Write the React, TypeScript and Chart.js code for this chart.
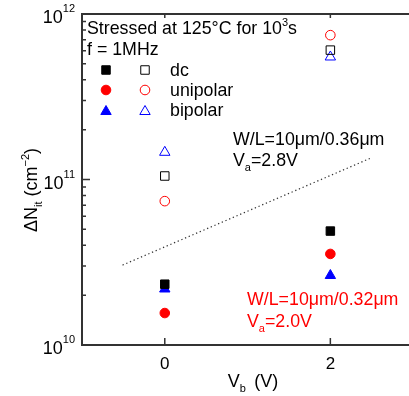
import React, { useEffect, useRef } from 'react';
import { Chart, registerables } from 'chart.js';

Chart.register(...registerables);

// Bias voltage V_b (V) for each measurement
const biasVoltages = [0, 2];

// W/L = 10um/0.32um, Va = 2.0V (filled markers)
const dcFilled = [2.33e10, 4.88e10];
const unipolarFilled = [1.56e10, 3.55e10];
const bipolarFilled = [2.18e10, 2.63e10];

// W/L = 10um/0.36um, Va = 2.8V (open markers)
const dcOpen = [1.05e11, 6.05e11];
const unipolarOpen = [7.4e10, 7.45e11];
const bipolarOpen = [1.46e11, 5.5e11];

// dotted guide line separating the two device groups
const guideX = [-0.51, 2.5];
const guideY = [3.04e10, 1.355e11];

// axis ticks
const xTickValues = [0, 2];
const yDecades = [10, 11, 12];

const FONT = '"Liberation Sans", Arial, Helvetica, sans-serif';
const RED = '#ff0000';
const BLUE = '#0000ff';
const BLACK = '#000000';

type Run = { text: string; kind?: 'sup' | 'sub' };

function drawRuns(
  ctx: CanvasRenderingContext2D,
  runs: Run[],
  x: number,
  y: number,
  size: number,
  color: string,
  align: 'left' | 'right' | 'center' = 'left'
) {
  const small = Math.round(size * 0.62);
  const widths = runs.map((r) => {
    ctx.font = `${r.kind ? small : size}px ${FONT}`;
    return ctx.measureText(r.text).width;
  });
  const total = widths.reduce((a, b) => a + b, 0);
  let cx = align === 'left' ? x : align === 'right' ? x - total : x - total / 2;
  ctx.fillStyle = color;
  ctx.textBaseline = 'alphabetic';
  ctx.textAlign = 'left';
  runs.forEach((r, i) => {
    ctx.font = `${r.kind ? small : size}px ${FONT}`;
    const dy = r.kind === 'sup' ? -size * 0.45 : r.kind === 'sub' ? size * 0.28 : 0;
    ctx.fillText(r.text, cx, y + dy);
    cx += widths[i];
  });
}

function marker(
  ctx: CanvasRenderingContext2D,
  style: 'rect' | 'circle' | 'triangle',
  x: number,
  y: number,
  r: number,
  color: string,
  filled: boolean
) {
  ctx.beginPath();
  if (style === 'rect') {
    const s = Math.SQRT1_2 * r;
    ctx.rect(x - s, y - s, 2 * s, 2 * s);
  } else if (style === 'circle') {
    ctx.arc(x, y, r, 0, Math.PI * 2);
  } else {
    let a = 0;
    ctx.moveTo(x + Math.sin(a) * r, y - Math.cos(a) * r);
    a += (2 * Math.PI) / 3;
    ctx.lineTo(x + Math.sin(a) * r, y - Math.cos(a) * r);
    a += (2 * Math.PI) / 3;
    ctx.lineTo(x + Math.sin(a) * r, y - Math.cos(a) * r);
    ctx.closePath();
  }
  ctx.lineWidth = 1;
  ctx.strokeStyle = color;
  if (filled) {
    ctx.fillStyle = color;
    ctx.fill();
  }
  ctx.stroke();
}

const SIZES = { rect: 6, circle: 4.8, triangle: 6 };

const framePlugin = {
  id: 'frame',
  afterDraw(chart: any) {
    const ctx: CanvasRenderingContext2D = chart.ctx;
    const { left, right, top, bottom } = chart.chartArea;
    const xs = chart.scales.x;
    const ys = chart.scales.y;
    ctx.save();

    // axis frame: left, bottom, top
    ctx.strokeStyle = '#333';
    ctx.lineWidth = 2;
    ctx.beginPath();
    ctx.moveTo(left, top);
    ctx.lineTo(right, top);
    ctx.moveTo(left, top - 1);
    ctx.lineTo(left, bottom + 1);
    ctx.moveTo(left - 1, bottom);
    ctx.lineTo(right, bottom);
    ctx.stroke();

    // inward ticks on the log axis
    ctx.lineWidth = 1.5;
    ctx.beginPath();
    for (let d = yDecades[0]; d < yDecades[yDecades.length - 1]; d++) {
      for (let m = 1; m <= 9; m++) {
        const py = ys.getPixelForValue(m * Math.pow(10, d));
        const len = m === 1 ? 8 : 4;
        ctx.moveTo(left, py);
        ctx.lineTo(left + len, py);
      }
    }
    ctx.stroke();

    // inward ticks on bottom and top
    ctx.beginPath();
    xTickValues.forEach((v) => {
      const px = xs.getPixelForValue(v);
      ctx.moveTo(px, bottom);
      ctx.lineTo(px, bottom - 7);
      ctx.moveTo(px, top);
      ctx.lineTo(px, top + 4);
    });
    ctx.stroke();

    // y tick labels 10^n
    yDecades.forEach((d) => {
      const py = ys.getPixelForValue(Math.pow(10, d));
      ctx.font = `11px ${FONT}`;
      const supW = ctx.measureText(String(d)).width;
      drawRuns(ctx, [{ text: '10' }], 75 - supW, py + 9, 18, BLACK, 'right');
      ctx.font = `11px ${FONT}`;
      ctx.fillStyle = BLACK;
      ctx.textAlign = 'left';
      ctx.fillText(String(d), 75 - supW, py - 2);
    });

    // x tick labels
    xTickValues.forEach((v) => {
      const px = xs.getPixelForValue(v);
      drawRuns(ctx, [{ text: String(v) }], px, 369, 17, BLACK, 'center');
    });

    // x axis title
    drawRuns(
      ctx,
      [{ text: 'V' }, { text: 'b', kind: 'sub' }, { text: ' \u2009(V)' }],
      253,
      387,
      18,
      BLACK,
      'center'
    );

    // y axis title
    ctx.save();
    ctx.translate(37, 190);
    ctx.rotate(-Math.PI / 2);
    drawRuns(
      ctx,
      [
        { text: '\u0394N' },
        { text: 'it', kind: 'sub' },
        { text: ' (cm' },
        { text: '\u22122', kind: 'sup' },
        { text: ')' },
      ],
      0,
      0,
      18,
      BLACK,
      'center'
    );
    ctx.restore();

    // stress condition header
    drawRuns(
      ctx,
      [{ text: 'Stressed at 125\u00b0C for 10' }, { text: '3', kind: 'sup' }, { text: 's' }],
      87,
      34,
      17.8,
      BLACK
    );
    drawRuns(ctx, [{ text: 'f = 1MHz' }], 87, 55, 17.8, BLACK);

    // legend rows
    const rows: { name: string; style: 'rect' | 'circle' | 'triangle'; color: string; y: number }[] = [
      { name: 'dc', style: 'rect', color: BLACK, y: 70 },
      { name: 'unipolar', style: 'circle', color: RED, y: 90 },
      { name: 'bipolar', style: 'triangle', color: BLUE, y: 110 },
    ];
    rows.forEach((r) => {
      const dy = r.style === 'triangle' ? 1.5 : 0;
      marker(ctx, r.style, 106, r.y + dy, SIZES[r.style], r.color, true);
      marker(ctx, r.style, 145, r.y + dy, SIZES[r.style], r.color, false);
      drawRuns(ctx, [{ text: r.name }], 170, r.y + 6, 17.8, BLACK);
    });

    // device annotations
    drawRuns(ctx, [{ text: 'W/L=10\u03bcm/0.36\u03bcm' }], 233, 145, 17.8, BLACK);
    drawRuns(ctx, [{ text: 'V' }, { text: 'a', kind: 'sub' }, { text: '=2.8V' }], 233, 166, 17.8, BLACK);
    drawRuns(ctx, [{ text: 'W/L=10\u03bcm/0.32\u03bcm' }], 247, 305, 17.8, RED);
    drawRuns(ctx, [{ text: 'V' }, { text: 'a', kind: 'sub' }, { text: '=2.0V' }], 247, 327, 17.8, RED);

    ctx.restore();
  },
};

function series(
  values: number[],
  style: 'rect' | 'circle' | 'triangle',
  color: string,
  filled: boolean
) {
  return {
    type: 'scatter' as const,
    data: biasVoltages.map((x, i) => ({ x, y: values[i] })),
    pointStyle: style,
    pointRadius: SIZES[style],
    pointBorderWidth: 1,
    pointBorderColor: color,
    pointBackgroundColor: filled ? color : 'rgba(0,0,0,0)',
    borderColor: color,
    backgroundColor: filled ? color : 'rgba(0,0,0,0)',
  };
}

export default function App() {
  const canvasRef = useRef<HTMLCanvasElement | null>(null);

  useEffect(() => {
    const canvas = canvasRef.current;
    if (!canvas) return;
    const chart = new Chart(canvas, {
      type: 'scatter',
      data: {
        datasets: [
          {
            type: 'line',
            data: guideX.map((x, i) => ({ x, y: guideY[i] })),
            borderColor: '#333',
            borderWidth: 1.2,
            borderDash: [1.3, 2.7],
            pointRadius: 0,
            fill: false,
          } as any,
          series(dcFilled, 'rect', BLACK, true),
          series(unipolarFilled, 'circle', RED, true),
          series(bipolarFilled, 'triangle', BLUE, true),
          series(dcOpen, 'rect', BLACK, false),
          series(unipolarOpen, 'circle', RED, false),
          series(bipolarOpen, 'triangle', BLUE, false),
        ],
      },
      options: {
        responsive: false,
        animation: false,
        devicePixelRatio: 1,
        layout: { autoPadding: false, padding: { left: 82, top: 14, bottom: 51, right: 0 } },
        plugins: { legend: { display: false }, tooltip: { enabled: false } },
        scales: {
          x: { type: 'linear', min: -1, max: 2.95, display: false },
          y: { type: 'logarithmic', min: 1e10, max: 1e12, display: false },
        },
      },
      plugins: [framePlugin],
    });
    return () => chart.destroy();
  }, []);

  return (
    <canvas
      ref={canvasRef}
      width={409}
      height={396}
      style={{ position: 'absolute', left: 0, top: 0, background: '#fff' }}
    />
  );
}
